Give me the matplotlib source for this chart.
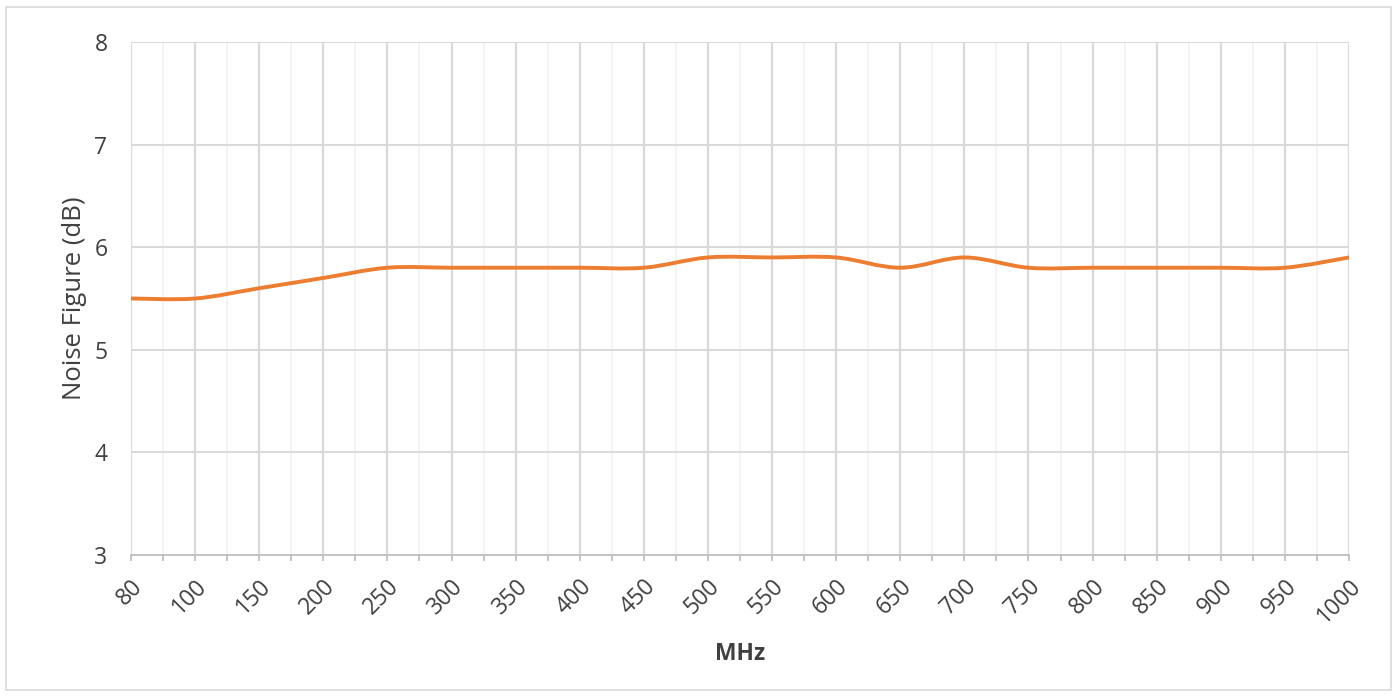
import matplotlib
matplotlib.use("Agg")
import matplotlib.pyplot as plt
from matplotlib.path import Path
from matplotlib.patches import PathPatch, Rectangle
from matplotlib.ticker import FixedLocator

plt.rcParams['font.family'] = ['Open Sans', 'DejaVu Sans']

freq_labels = ["80", "100", "150", "200", "250", "300", "350", "400", "450", "500",
               "550", "600", "650", "700", "750", "800", "850", "900", "950", "1000"]
noise_figure = [5.5, 5.5, 5.6, 5.7, 5.8, 5.8, 5.8, 5.8, 5.8, 5.9,
                5.9, 5.9, 5.8, 5.9, 5.8, 5.8, 5.8, 5.8, 5.8, 5.9]
y_ticks = [3, 4, 5, 6, 7, 8]

W, H = 1399, 696
fig = plt.figure(figsize=(W / 100, H / 100), dpi=100)
ax = fig.add_axes([131 / W, 1 - 555 / H, (1349 - 131) / W, (555 - 42) / H])

n = len(noise_figure)
xs = list(range(n))

# Excel-style smoothed line (Bezier through the data points)
verts = [(xs[0], noise_figure[0])]
codes = [Path.MOVETO]
for i in range(n - 1):
    p0 = (xs[max(i - 1, 0)], noise_figure[max(i - 1, 0)])
    p1 = (xs[i], noise_figure[i])
    p2 = (xs[i + 1], noise_figure[i + 1])
    p3 = (xs[min(i + 2, n - 1)], noise_figure[min(i + 2, n - 1)])
    c1 = (p1[0] + (p2[0] - p0[0]) / 6, p1[1] + (p2[1] - p0[1]) / 6)
    c2 = (p2[0] - (p3[0] - p1[0]) / 6, p2[1] - (p3[1] - p1[1]) / 6)
    verts += [c1, c2, p2]
    codes += [Path.CURVE4] * 3
ax.add_patch(PathPatch(Path(verts, codes), fill=False, edgecolor='#ED7D31',
                       lw=2.8, capstyle='round', joinstyle='round', zorder=5))

ax.set_xlim(0, n - 1)
ax.set_ylim(3, 8)
ax.set_yticks(y_ticks)
ax.xaxis.set_major_locator(FixedLocator(xs))
ax.set_xticklabels(freq_labels)
ax.xaxis.set_minor_locator(FixedLocator([x + 0.5 for x in xs[:-1]]))

for s in ['top', 'right', 'left']:
    ax.spines[s].set_visible(False)
ax.spines['bottom'].set_color('#bfbfbf')
ax.spines['bottom'].set_linewidth(1.3)
ax.spines['bottom'].set_zorder(3)

ax.grid(which='major', axis='x', color='#d9d9d9', lw=1.6, zorder=1)
ax.grid(which='minor', axis='x', color='#f2f2f2', lw=1.3, zorder=0)
ax.grid(which='major', axis='y', color='#d9d9d9', lw=1.4, zorder=1)
ax.set_axisbelow(True)

ax.tick_params(axis='y', length=0, labelsize=16.5, labelcolor='#404040', pad=17)
ax.tick_params(axis='x', which='both', direction='out', length=4, color='#bfbfbf',
               width=1.3)
ax.tick_params(axis='x', which='major', labelsize=16.5, labelcolor='#404040', pad=10)
for lbl in ax.get_xticklabels():
    lbl.set_rotation(45)
    lbl.set_ha('right')
    lbl.set_va('top')
    lbl.set_rotation_mode('anchor')

ax.set_ylabel('Noise Figure (dB)', fontsize=18.5, color='#404040', labelpad=5)
ax.set_xlabel('MHz', fontsize=16.5, color='#404040', fontweight='bold', labelpad=10)

# outer chart border
fig.patches.append(Rectangle((6 / W, 1 - 690 / H), (1391 - 6) / W, (690 - 7) / H,
                             transform=fig.transFigure, fill=False,
                             edgecolor='#d9d9d9', lw=1.2))

fig.savefig('out.png', dpi=100, facecolor='white')
